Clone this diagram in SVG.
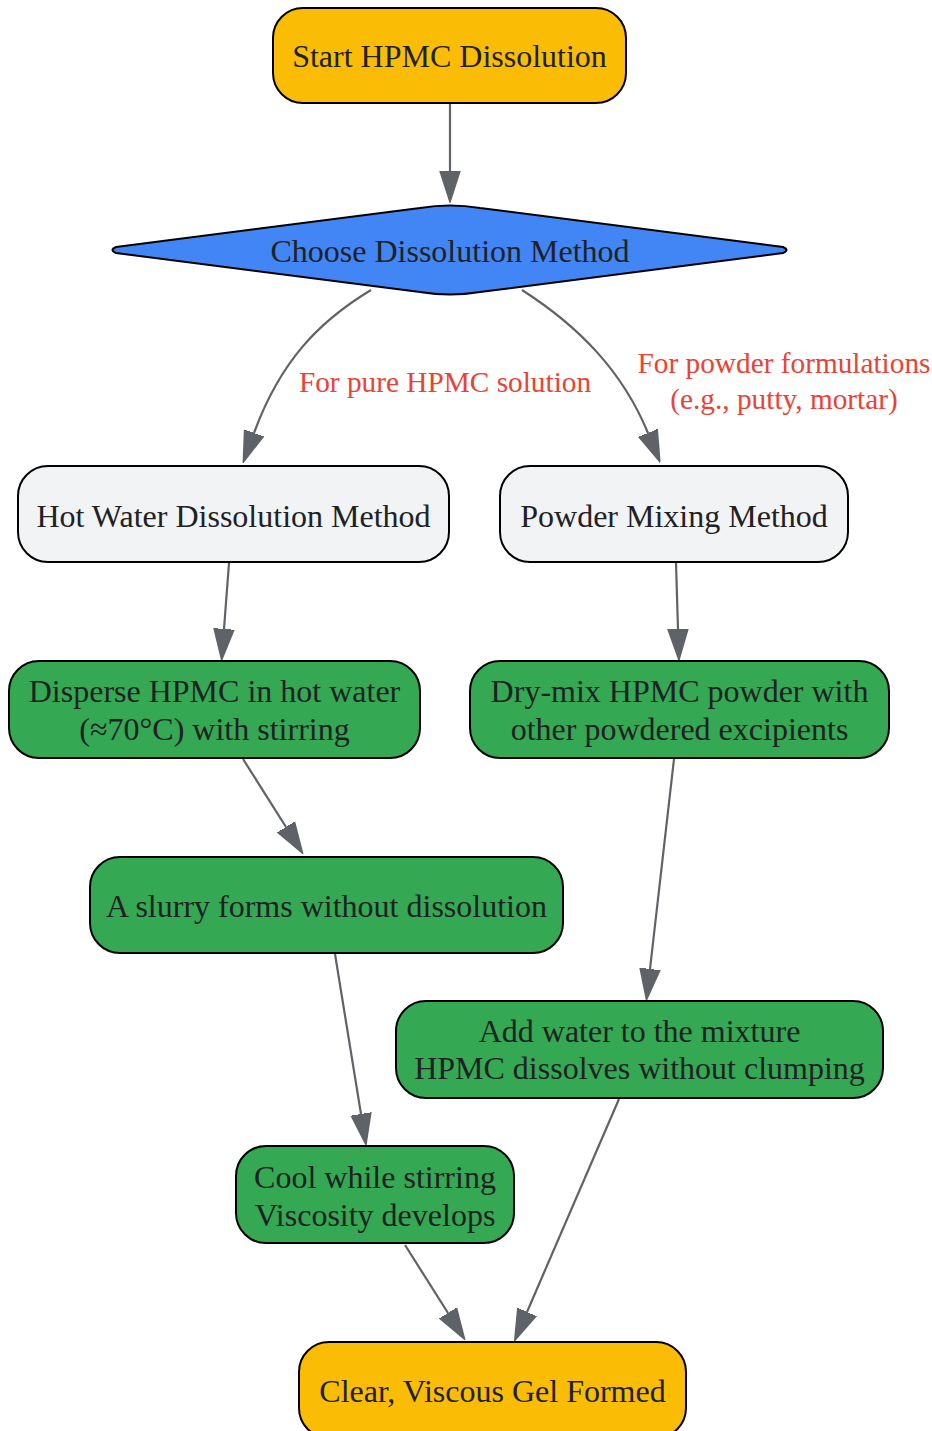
<svg xmlns="http://www.w3.org/2000/svg" width="932" height="1431" viewBox="0 0 932 1431">
<style>
.node rect, .node path { stroke: #000; stroke-width: 2; }
.start rect { fill: #FBBC05; }
.dec path { fill: #4285F4; }
.method rect { fill: #F1F3F4; }
.step rect { fill: #34A853; }
.node text { font-family: "Liberation Serif", "Times New Roman", serif; font-size: 32px; fill: #202124; text-anchor: middle; }
.edges path { fill: none; stroke: #5F6368; stroke-width: 2.2; marker-end: url(#arr); }
.lbl { font-family: "Liberation Serif", "Times New Roman", serif; font-size: 29.3px; fill: #EA4335; text-anchor: middle; }
</style>
<defs>
<marker id="arr" markerUnits="userSpaceOnUse" markerWidth="32" markerHeight="22" viewBox="0 -11 32 22" refX="0" refY="0" orient="auto">
<path d="M0,-10 L31,0 L0,10 Z" fill="#5F6368" stroke="#5F6368" stroke-width="1.5"/>
</marker>
</defs>
<rect width="932" height="1431" fill="#fff"/>
<g class="edges" id="edges">
<path d="M450,103 L450,171"/>
<path d="M371,290 C318,322 280,362 254,433"/>
<path d="M522,290 C578,326 622,370 648,433"/>
<path d="M229,563 L224,629"/>
<path d="M676,563 L678,629"/>
<path d="M243,759 L286,827"/>
<path d="M674,759 L650,969"/>
<path d="M335,954 L361,1114"/>
<path d="M405,1245 L448,1313"/>
<path d="M619,1099 L527,1312"/>
</g>
<g class="labels">
<text class="lbl" x="445" y="392">For pure HPMC solution</text>
<text class="lbl" x="784" y="373">For powder formulations</text>
<text class="lbl" x="784" y="409">(e.g., putty, mortar)</text>
</g>
<g class="node start" id="start">
<rect x="273" y="8" width="353" height="95" rx="30"/>
<text x="449.5" y="67">Start HPMC Dissolution</text>
</g>
<g class="node dec" id="choose">
<path d="M116,247 L420,208 Q450,203 480,208 L783,247 Q790,250 783,253 L480,292 Q450,297 420,292 L116,253 Q109,250 116,247 Z"/>
<text x="450" y="262">Choose Dissolution Method</text>
</g>
<g class="node method" id="hotwater">
<rect x="18" y="466" width="431" height="96" rx="30"/>
<text x="233.5" y="527">Hot Water Dissolution Method</text>
</g>
<g class="node method" id="powder">
<rect x="500" y="466" width="348" height="96" rx="30"/>
<text x="674" y="527">Powder Mixing Method</text>
</g>
<g class="node step" id="disperse">
<rect x="9" y="661" width="411" height="97" rx="30"/>
<text x="214.5" y="702">Disperse HPMC in hot water</text>
<text x="214.5" y="740">(≈70°C) with stirring</text>
</g>
<g class="node step" id="drymix">
<rect x="470" y="661" width="419" height="97" rx="30"/>
<text x="679.5" y="702">Dry-mix HPMC powder with</text>
<text x="679.5" y="740">other powdered excipients</text>
</g>
<g class="node step" id="slurry">
<rect x="90" y="857" width="473" height="96" rx="30"/>
<text x="326.5" y="917">A slurry forms without dissolution</text>
</g>
<g class="node step" id="addwater">
<rect x="396" y="1001" width="487" height="97" rx="30"/>
<text x="639.5" y="1042">Add water to the mixture</text>
<text x="639.5" y="1079">HPMC dissolves without clumping</text>
</g>
<g class="node step" id="cool">
<rect x="236" y="1146" width="278" height="97" rx="30"/>
<text x="375" y="1188">Cool while stirring</text>
<text x="375" y="1226">Viscosity develops</text>
</g>
<g class="node start" id="clear">
<rect x="299" y="1342" width="387" height="96" rx="30"/>
<text x="492.5" y="1402">Clear, Viscous Gel Formed</text>
</g>
</svg>
